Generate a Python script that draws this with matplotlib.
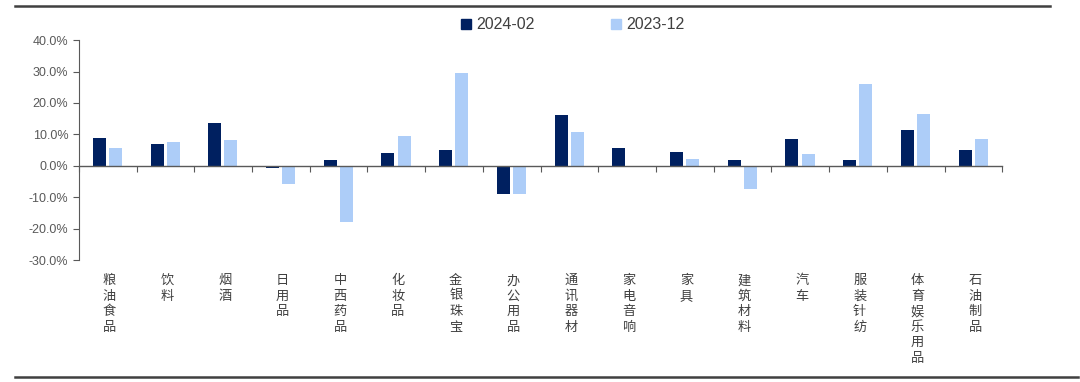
import matplotlib.pyplot as plt
from matplotlib.lines import Line2D
from matplotlib.ticker import FuncFormatter
import numpy as np

plt.rcParams['font.family'] = ['Liberation Sans', 'Noto Sans CJK SC', 'DejaVu Sans']

categories = ['粮油食品', '饮料', '烟酒', '日用品', '中西药品', '化妆品', '金银珠宝', '办公用品',
              '通讯器材', '家电音响', '家具', '建筑材料', '汽车', '服装针纺', '体育娱乐用品', '石油制品']
feb_2024 = [9.0, 6.9, 13.6, -0.7, 1.9, 4.0, 5.0, -8.8, 16.2, 5.7, 4.5, 2.0, 8.6, 1.8, 11.3, 4.9]
dec_2023 = [5.7, 7.6, 8.2, -5.9, -18.0, 9.6, 29.4, -9.0, 10.9, 0.0, 2.2, -7.5, 3.9, 25.9, 16.6, 8.5]
series_names = ['2024-02', '2023-12']

dark = '#002060'
light = '#ADCDF8'
grey = '#595959'

fig = plt.figure(figsize=(10.8, 3.82), dpi=100)
ax = fig.add_axes([0.073, 0.319, 0.855, 0.576])

x = np.arange(len(categories))
w = 0.225
ax.bar(x - 0.145, np.array(feb_2024) / 100, w, color=dark, label=series_names[0])
ax.bar(x + 0.135, np.array(dec_2023) / 100, w, color=light, label=series_names[1])

ax.set_xlim(-0.5, len(categories) - 0.5)
ax.set_ylim(-0.3, 0.4)
ax.set_yticks(np.arange(-0.3, 0.41, 0.1))
ax.yaxis.set_major_formatter(FuncFormatter(lambda v, p: f'{v*100:.1f}%'))
ax.tick_params(axis='y', labelsize=9, labelcolor=grey, color=grey, length=4, width=0.8)

for s in ['top', 'right']:
    ax.spines[s].set_visible(False)
ax.spines['left'].set_color(grey)
ax.spines['bottom'].set_position(('data', 0))
ax.spines['bottom'].set_color(grey)
ax.spines['bottom'].set_linewidth(1.0)

ax.set_xticks(np.arange(-0.5, len(categories), 1.0))
ax.set_xticklabels([])
ax.tick_params(axis='x', direction='out', length=4, color=grey, width=0.8)

for i, c in enumerate(categories):
    ax.text(i + 0.03, -0.345, '\n'.join(c), ha='center', va='top', fontsize=9.5,
            color='#404040', linespacing=1.25, family='Noto Sans CJK SC')

handles = [Line2D([], [], marker='s', linestyle='', color=dark, markersize=7),
           Line2D([], [], marker='s', linestyle='', color=light, markersize=7)]
fig.legend(handles, series_names, loc='center', bbox_to_anchor=(0.530, 0.935), ncol=2,
           frameon=False, fontsize=11.5, handlelength=0.7, handletextpad=0.3,
           columnspacing=4.75, labelcolor='#404040')

fig.add_artist(Line2D([0.014, 0.972], [0.983, 0.983], color='#404040', lw=1.8))
fig.add_artist(Line2D([0.014, 0.998], [0.013, 0.013], color='#404040', lw=1.8))

fig.savefig('out.png', dpi=100)
